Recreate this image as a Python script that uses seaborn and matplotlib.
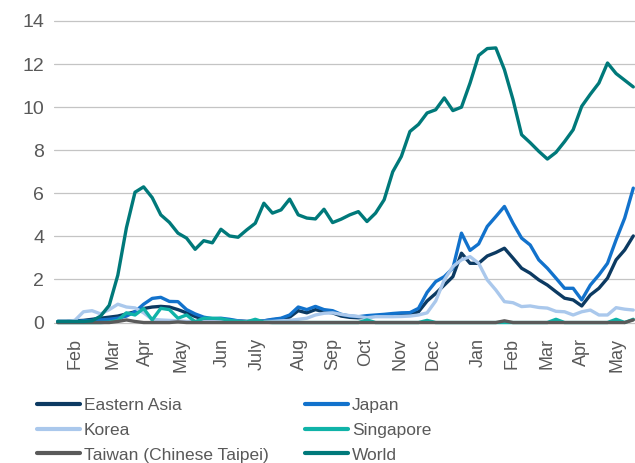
import numpy as np
import pandas as pd
import matplotlib.pyplot as plt
import seaborn as sns

# weekly index, months as tick labels
month_labels = ["Feb", "Mar", "Apr", "May", "Jun", "July", "Aug", "Sep",
                "Oct", "Nov", "Dec", "Jan", "Feb", "Mar", "Apr", "May"]
tick_pos = [2, 6.4, 10.2, 14.4, 19.1, 23.2, 28.2, 32, 35.9, 39.8, 43.7, 48.9, 52.9, 56.9, 61, 65.1]

eastern_asia = [0.05, 0.05, 0.08, 0.1, 0.15, 0.2, 0.25, 0.3, 0.4, 0.5,
                0.65, 0.72, 0.75, 0.72, 0.6, 0.45, 0.28, 0.15, 0.12, 0.12,
                0.1, 0.08, 0.05, 0.05, 0.08, 0.12, 0.18, 0.25, 0.55, 0.45,
                0.6, 0.5, 0.45, 0.3, 0.24, 0.22, 0.25, 0.3, 0.32, 0.33,
                0.35, 0.37, 0.5, 1.0, 1.35, 1.74, 2.13, 3.22, 2.75, 2.75,
                3.09, 3.25, 3.45, 2.99, 2.52, 2.29, 1.98, 1.74, 1.43, 1.13,
                1.05, 0.77, 1.28, 1.59, 2.06, 2.91, 3.37, 4.02]
japan = [0.05, 0.05, 0.05, 0.08, 0.1, 0.12, 0.15, 0.2, 0.3, 0.5,
         0.85, 1.12, 1.17, 0.98, 0.97, 0.6, 0.4, 0.25, 0.18, 0.2,
         0.15, 0.08, 0.05, 0.05, 0.08, 0.15, 0.2, 0.35, 0.72, 0.6,
         0.75, 0.6, 0.55, 0.38, 0.3, 0.27, 0.32, 0.35, 0.38, 0.42,
         0.45, 0.46, 0.66, 1.4, 1.9, 2.13, 2.52, 4.15, 3.35, 3.65,
         4.46, 4.92, 5.39, 4.61, 3.92, 3.6, 2.91, 2.52, 2.06, 1.59,
         1.59, 1.05, 1.74, 2.21, 2.75, 3.84, 4.85, 6.24]
korea = [0.05, 0.05, 0.1, 0.5, 0.55, 0.4, 0.6, 0.85, 0.72, 0.68,
         0.45, 0.15, 0.12, 0.1, 0.08, 0.05, 0.05, 0.05, 0.05, 0.05,
         0.05, 0.05, 0.05, 0.05, 0.05, 0.05, 0.08, 0.1, 0.15, 0.2,
         0.35, 0.43, 0.45, 0.38, 0.32, 0.28, 0.22, 0.27, 0.27, 0.27,
         0.28, 0.3, 0.35, 0.45, 1.0, 1.98, 2.6, 2.91, 3.06, 2.75,
         1.98, 1.51, 0.97, 0.92, 0.74, 0.77, 0.7, 0.67, 0.52, 0.5,
         0.35, 0.5, 0.58, 0.35, 0.35, 0.69, 0.62, 0.58]
singapore = [0, 0, 0, 0, 0, 0, 0.02, 0.1, 0.45, 0.35,
             0.65, 0.12, 0.66, 0.6, 0.2, 0.35, 0.04, 0.2, 0.2, 0.18,
             0.1, 0.05, 0.03, 0.15, 0.02, 0, 0, 0, 0, 0,
             0, 0, 0, 0, 0, 0, 0.12, 0, 0, 0,
             0, 0, 0, 0.1, 0, 0, 0, 0, 0, 0,
             0, 0, 0, 0, 0, 0, 0, 0, 0.15, 0,
             0, 0, 0, 0, 0, 0.15, 0, 0.15]
taiwan = [0, 0, 0, 0, 0, 0, 0, 0.05, 0.12, 0.05,
          0, 0, 0, 0, 0.03, 0, 0, 0, 0, 0,
          0, 0, 0, 0, 0, 0, 0, 0, 0, 0,
          0, 0, 0, 0, 0, 0, 0, 0, 0, 0,
          0, 0, 0, 0, 0, 0, 0, 0, 0, 0,
          0, 0, 0.08, 0, 0, 0, 0, 0, 0, 0,
          0, 0, 0, 0, 0, 0, 0, 0.12]
world = [0.05, 0.05, 0.05, 0.05, 0.08, 0.3, 0.8, 2.2, 4.4, 6.05,
         6.3, 5.8, 5.0, 4.65, 4.15, 3.92, 3.4, 3.8, 3.7, 4.33,
         4.02, 3.96, 4.3, 4.61, 5.54, 5.08, 5.23, 5.73, 5.0, 4.85,
         4.81, 5.26, 4.64, 4.8, 5.0, 5.15, 4.69, 5.08, 5.7, 7.0,
         7.71, 8.87, 9.2, 9.73, 9.88, 10.43, 9.84, 10.0, 11.12, 12.4,
         12.72, 12.75, 11.74, 10.35, 8.72, 8.35, 7.95, 7.59, 7.9, 8.4,
         8.95, 10.04, 10.6, 11.12, 12.05, 11.56, 11.25, 10.94]

regions = ["Eastern Asia", "Japan", "Korea", "Singapore", "Taiwan (Chinese Taipei)", "World"]
colors = ["#0C3A62", "#1272CC", "#AAC8EC", "#10B3A8", "#5A5A5A", "#00797A"]

df = pd.DataFrame({"week": np.arange(len(world))})
for name, vals in zip(regions, [eastern_asia, japan, korea, singapore, taiwan, world]):
    df[name] = vals
long = df.melt(id_vars="week", var_name="region", value_name="value")

sns.set_style("white")
plt.rcParams["font.family"] = ["Liberation Sans", "DejaVu Sans"]

fig = plt.figure(figsize=(6.35, 4.63), dpi=100)
ax = fig.add_axes([54 / 635, 0.2978, (635 - 54) / 635, 0.6615])

sns.lineplot(data=long, x="week", y="value", hue="region", hue_order=regions,
             palette=colors, linewidth=2.4, ax=ax)

ax.set_xlim(-0.43, 67.2)
ax.set_ylim(-0.12, 14.1)
ax.set_yticks(range(0, 15, 2))
ax.set_xticks(tick_pos)
ax.set_xticklabels(month_labels, rotation=90)
ax.tick_params(axis="y", length=0, labelsize=14, colors="#595959", pad=7)
ax.tick_params(axis="x", length=0, labelsize=13, colors="#595959", pad=9)
ax.grid(axis="y", color="#C4C4C4", linewidth=0.9)
ax.set_xlabel("")
ax.set_ylabel("")
sns.despine(ax=ax, left=True, bottom=True)

# legend: row-wise order in two columns
handles, labels = ax.get_legend_handles_labels()
ax.get_legend().remove()
order = [0, 2, 4, 1, 3, 5]
leg = fig.legend([handles[i] for i in order], [labels[i] for i in order],
                 ncol=2, loc="upper left", bbox_to_anchor=(37 / 635, 1 - 398 / 463),
                 frameon=False, fontsize=12.5, labelcolor="#595959",
                 handlelength=2.5, handletextpad=0.2, columnspacing=2.1,
                 labelspacing=0.55, borderpad=0, borderaxespad=0)
for line in leg.get_lines():
    line.set_linewidth(3)

plt.savefig("out.png", dpi=100)
